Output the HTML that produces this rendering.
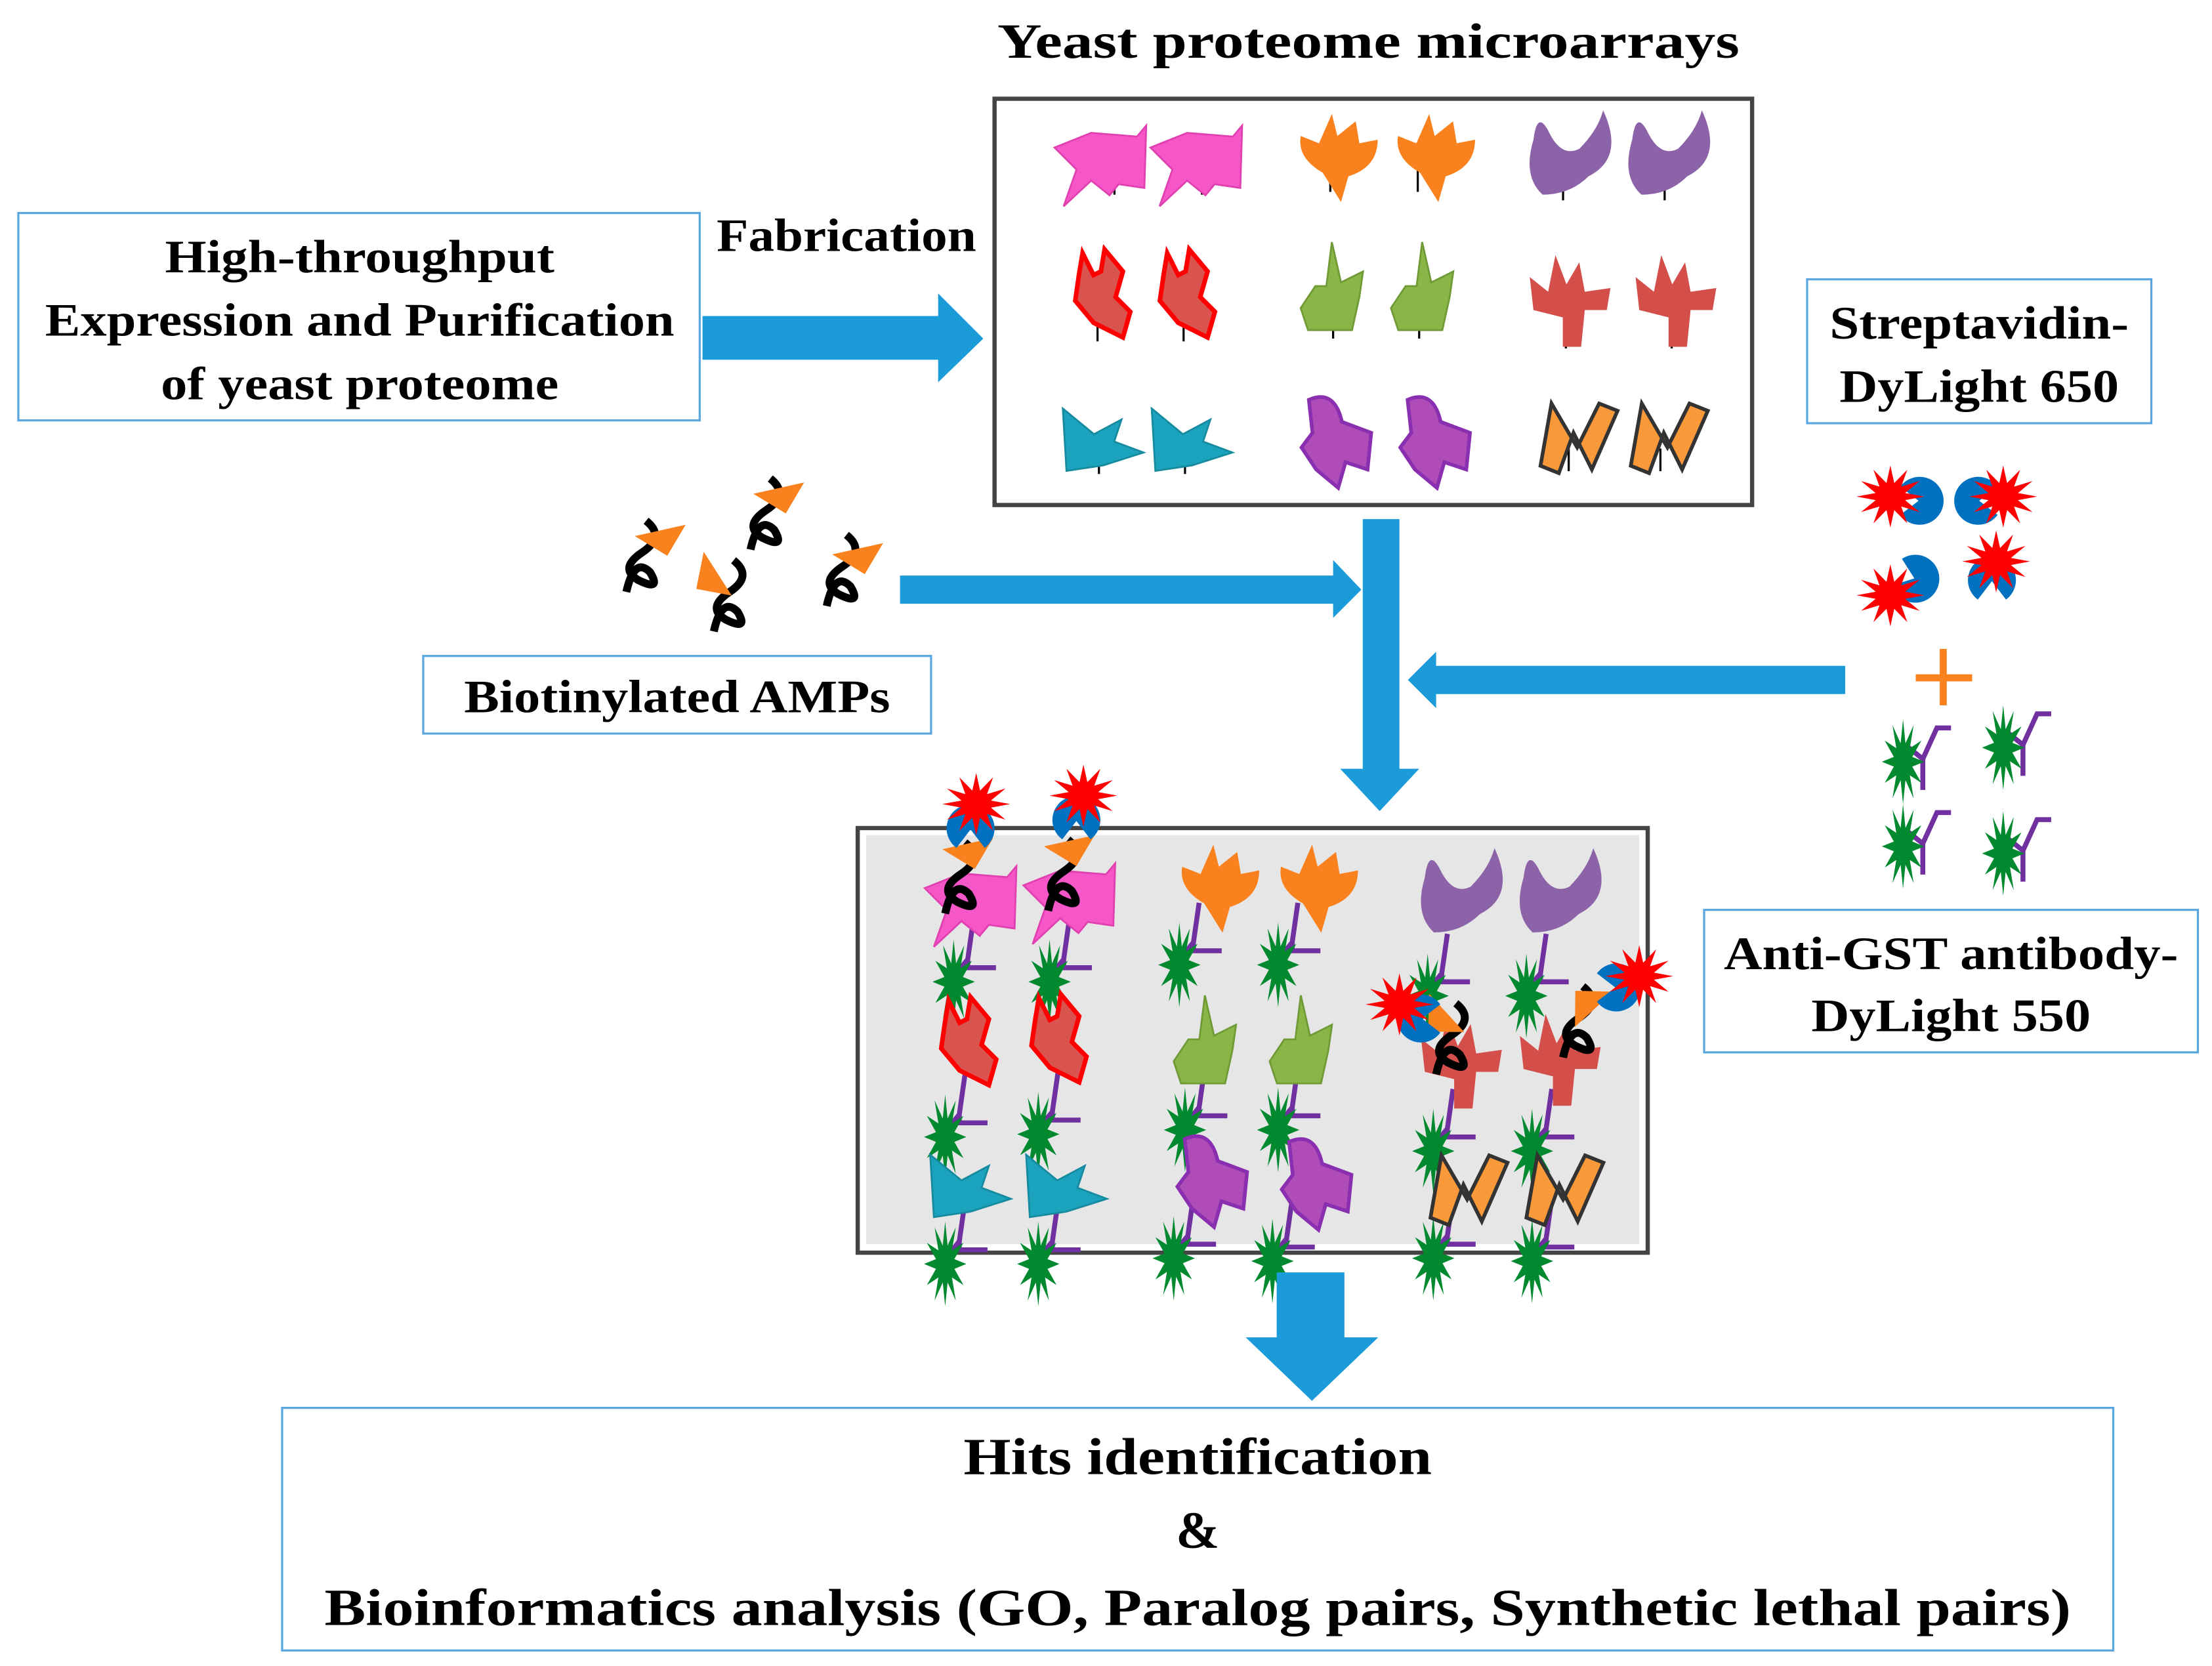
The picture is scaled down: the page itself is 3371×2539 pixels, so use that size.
<!DOCTYPE html>
<html><head><meta charset="utf-8"><style>
html,body{margin:0;padding:0;background:#fff;}
svg{display:block;}
text{font-family:"Liberation Serif",serif;font-weight:bold;fill:#000;}
</style></head><body>
<svg width="3371" height="2539" viewBox="0 0 1568 1181" xmlns="http://www.w3.org/2000/svg">
<defs>
<polygon id="star" points="20,0 8.7,2.3 17.3,10 6.4,6.4 10,17.3 2.3,8.7 0,20 -2.3,8.7 -10,17.3 -6.4,6.4 -17.3,10 -8.7,2.3 -20,0 -8.7,-2.3 -17.3,-10 -6.4,-6.4 -10,-17.3 -2.3,-8.7 0,-20 2.3,-8.7 10,-17.3 6.4,-6.4 17.3,-10 8.7,-2.3"/>
<g id="redstar"><use href="#star" fill="#ff0000" transform="scale(1.2,1.1)"/></g>
<g id="greenstar"><use href="#star" fill="#00892f" transform="scale(0.75,1.5)"/></g>
<path id="pac" d="M0,0 L13,-10 A17,17 0 1,0 13,10 Z" fill="#0070c0"/>
<g id="ab"><polyline points="-2,-28 -6,0 -14,10" fill="none" stroke="#7030a0" stroke-width="3.5"/><polyline points="-6,0 -6,6 14,6" fill="none" stroke="#7030a0" stroke-width="3.5"/><use href="#greenstar" transform="translate(-16,16)"/></g>
<g id="ab2"><polyline points="-12,-10 -2,-2 -2,20" fill="none" stroke="#7030a0" stroke-width="3.5"/><polyline points="-2,-2 8,-24 18,-24" fill="none" stroke="#7030a0" stroke-width="3.5"/><use href="#greenstar" transform="translate(-16,0)"/></g>
<g id="p1" transform="scale(1.3)"><path d="M-25,-8 L-5,-16 L20,-14 L25,-20 L24,14 L10,12 L5,18 L-5,10 L-20,24 L-13,4 Z" fill="#f556c8" stroke="#e040b0" stroke-width="1"/></g>
<g id="p2" transform="scale(1.3)"><path d="M-20,-12 L-10,-8 L-3,-24 L0,-12 L10,-20 L12,-8 L22,-10 Q22,5 6,10 L2,24 L-8,8 Q-22,0 -20,-12 Z" fill="#f9821e"/></g>
<g id="p3" transform="scale(1.3)"><path d="M-20,-10 Q-18,-26 -12,-15 Q-5,0 5,-5 Q15,-15 18,-26 Q30,0 10,10 Q0,20 -15,20 Q-26,10 -20,-10 Z" fill="#8c63a8"/></g>
<g id="p4" transform="scale(1.3)"><path d="M-12,-22 L-6,-10 L-2,-12 L0,-24 L10,-12 L6,2 L14,10 L10,24 L-6,16 L-16,4 L-14,-10 Z" fill="#d9534f" stroke="#ff0000" stroke-width="2.5"/></g>
<g id="p5" transform="scale(1.3)"><path d="M-20,8 L-12,-4 L-6,-4 L-3,-28 L2,-6 L14,-12 L12,2 L8,20 L-16,20 Z" fill="#8ab648" stroke="#6f9a36" stroke-width="1"/></g>
<g id="p6" transform="scale(1.3)"><path d="M-22,-12 L-12,-4 L-8,-24 L-2,-8 L5,-20 L8,-4 L22,-6 L20,6 L8,6 L6,26 L-4,26 L-4,10 L-20,6 Z" fill="#d44e4a"/></g>
<g id="p7" transform="scale(1.3)"><path d="M-22,-18 L-5,-4 L10,-12 L6,0 L22,6 L0,13 L-20,16 Z" fill="#1ba2bd" stroke="#168a9f" stroke-width="1"/></g>
<g id="p8" transform="scale(1.3)"><path d="M-14,-22 Q0,-28 4,-10 L20,-4 L18,16 L6,12 L2,26 L-10,16 L-18,4 L-12,-4 Z" fill="#b04cb8" stroke="#8a2fb0" stroke-width="2"/></g>
<g id="p9" transform="scale(1.3)"><path d="M-20,14 L-14,-20 L0,4 L12,-20 L22,-16 L8,16 L-2,-4 L-10,18 Z" fill="#f9993a" stroke="#333" stroke-width="2"/></g>
<g id="amp" transform="scale(1.4)"><path d="M0,-22 Q10,-14 -2,-6 Q-14,2 -4,8 Q8,14 2,4 Q-6,-4 -10,14" fill="none" stroke="#000" stroke-width="4"/></g>
<polygon id="tri" points="-18,0 18,-8 5,14" fill="#f9821e"/>
</defs>

<text x="970" y="41" font-size="35" text-anchor="middle" textLength="526" lengthAdjust="spacingAndGlyphs">Yeast proteome microarrays</text>

<rect x="13" y="151" width="483" height="147" fill="#fff" stroke="#5aa7e0" stroke-width="1.5"/>
<text x="255" y="193" font-size="33" text-anchor="middle" textLength="276" lengthAdjust="spacingAndGlyphs">High-throughput</text>
<text x="255" y="238" font-size="33" text-anchor="middle" textLength="446" lengthAdjust="spacingAndGlyphs">Expression and Purification</text>
<text x="255" y="283" font-size="33" text-anchor="middle" textLength="282" lengthAdjust="spacingAndGlyphs">of yeast proteome</text>
<text x="600" y="178" font-size="33" text-anchor="middle" textLength="184" lengthAdjust="spacingAndGlyphs">Fabrication</text>

<polygon points="498,224 665,224 665,208 697,240 665,271 665,255 498,255" fill="#1b9bd7"/>

<rect x="705" y="70" width="537" height="288" fill="#fff" stroke="#444" stroke-width="3"/>
<g stroke="#000" stroke-width="1.5">
<line x1="790" y1="120" x2="790" y2="138"/><line x1="852" y1="120" x2="852" y2="138"/>
<line x1="943" y1="118" x2="943" y2="136"/><line x1="1005" y1="118" x2="1005" y2="136"/>
<line x1="1108" y1="125" x2="1108" y2="142"/><line x1="1180" y1="125" x2="1180" y2="142"/>
<line x1="778" y1="220" x2="778" y2="242"/><line x1="839" y1="220" x2="839" y2="242"/>
<line x1="945" y1="218" x2="945" y2="240"/><line x1="1006" y1="218" x2="1006" y2="240"/>
<line x1="1110" y1="225" x2="1110" y2="247"/><line x1="1185" y1="225" x2="1185" y2="247"/>
<line x1="779" y1="318" x2="779" y2="336"/><line x1="840" y1="318" x2="840" y2="336"/>
<line x1="936" y1="318" x2="936" y2="336"/><line x1="1006" y1="318" x2="1006" y2="336"/>
<line x1="1112" y1="318" x2="1112" y2="334"/><line x1="1177" y1="318" x2="1177" y2="334"/>
</g>
<use href="#p1" x="780" y="115"/><use href="#p1" x="848" y="115"/>
<use href="#p2" x="948" y="112"/><use href="#p2" x="1017" y="112"/>
<use href="#p3" x="1113" y="112"/><use href="#p3" x="1183" y="112"/>
<use href="#p4" x="783" y="208"/><use href="#p4" x="843" y="208"/>
<use href="#p5" x="948" y="208"/><use href="#p5" x="1012" y="208"/>
<use href="#p6" x="1113" y="212"/><use href="#p6" x="1188" y="212"/>
<use href="#p7" x="782" y="313"/><use href="#p7" x="845" y="313"/>
<use href="#p8" x="946" y="312"/><use href="#p8" x="1016" y="312"/>
<use href="#p9" x="1118" y="312"/><use href="#p9" x="1182" y="312"/>

<rect x="1281" y="198" width="244" height="102" fill="#fff" stroke="#5aa7e0" stroke-width="1.5"/>
<text x="1403" y="240" font-size="33" text-anchor="middle" textLength="212" lengthAdjust="spacingAndGlyphs">Streptavidin-</text>
<text x="1403" y="285" font-size="33" text-anchor="middle" textLength="198" lengthAdjust="spacingAndGlyphs">DyLight 650</text>

<use href="#pac" transform="translate(1360,355) rotate(180)"/><use href="#redstar" x="1340" y="352"/>
<use href="#pac" transform="translate(1403,355)"/><use href="#redstar" x="1420" y="352"/>
<use href="#pac" transform="translate(1357,410) rotate(200)"/><use href="#redstar" x="1340" y="422"/>
<use href="#pac" transform="translate(1412,412) rotate(90)"/><use href="#redstar" x="1415" y="398"/>
<rect x="1358" y="478" width="40" height="5" fill="#f9821e"/><rect x="1375" y="460" width="5" height="40" fill="#f9821e"/>
<use href="#ab2" x="1365" y="540"/><use href="#ab2" x="1436" y="530"/>
<use href="#ab2" x="1365" y="600"/><use href="#ab2" x="1436" y="605"/>

<use href="#amp" x="458" y="400"/><use href="#tri" x="468" y="380"/>
<use href="#amp" x="546" y="370"/><use href="#tri" x="552" y="350"/>
<use href="#amp" x="520" y="428"/><use href="#tri" transform="translate(505,408) rotate(70)"/>
<use href="#amp" x="600" y="410"/><use href="#tri" x="608" y="393"/>

<polygon points="638,408 945,408 945,397 965,418 945,438 945,428 638,428" fill="#1b9bd7"/>
<polygon points="966,368 992,368 992,545 1006,545 978,575 950,545 966,545" fill="#1b9bd7"/>
<polygon points="1308,472 1018,472 1018,462 998,482 1018,502 1018,492 1308,492" fill="#1b9bd7"/>

<rect x="300" y="465" width="360" height="55" fill="#fff" stroke="#5aa7e0" stroke-width="1.5"/>
<text x="480" y="505" font-size="33" text-anchor="middle" textLength="302" lengthAdjust="spacingAndGlyphs">Biotinylated AMPs</text>

<rect x="1208" y="645" width="350" height="101" fill="#fff" stroke="#5aa7e0" stroke-width="1.5"/>
<text x="1383" y="687" font-size="33" text-anchor="middle" textLength="322" lengthAdjust="spacingAndGlyphs">Anti-GST antibody-</text>
<text x="1383" y="731" font-size="33" text-anchor="middle" textLength="198" lengthAdjust="spacingAndGlyphs">DyLight 550</text>

<rect x="608" y="587" width="560" height="301" fill="#fff" stroke="#444" stroke-width="3"/>
<rect x="614" y="592" width="548" height="290" fill="#e6e6e6"/>
<g>
<use href="#ab" x="692" y="680"/><use href="#ab" x="760" y="680"/>
<use href="#ab" x="852" y="668"/><use href="#ab" x="922" y="668"/>
<use href="#ab" x="1028" y="690"/><use href="#ab" x="1098" y="690"/>
<use href="#ab" x="686" y="790"/><use href="#ab" x="752" y="788"/>
<use href="#ab" x="856" y="785"/><use href="#ab" x="922" y="785"/>
<use href="#ab" x="1032" y="800"/><use href="#ab" x="1102" y="800"/>
<use href="#ab" x="686" y="880"/><use href="#ab" x="752" y="880"/>
<use href="#ab" x="848" y="876"/><use href="#ab" x="918" y="878"/>
<use href="#ab" x="1032" y="876"/><use href="#ab" x="1102" y="878"/>
</g>
<use href="#p1" x="688" y="640"/><use href="#p1" x="758" y="638"/>
<use href="#p2" x="864" y="630"/><use href="#p2" x="934" y="630"/>
<use href="#p3" x="1036" y="635"/><use href="#p3" x="1106" y="635"/>
<use href="#p4" x="688" y="738"/><use href="#p4" x="752" y="736"/>
<use href="#p5" x="858" y="742"/><use href="#p5" x="926" y="742"/>
<use href="#p6" x="1036" y="752"/><use href="#p6" x="1106" y="750"/>
<use href="#p7" x="688" y="842"/><use href="#p7" x="756" y="842"/>
<use href="#p8" x="858" y="836"/><use href="#p8" x="932" y="838"/>
<use href="#p9" x="1040" y="845"/><use href="#p9" x="1108" y="845"/>
<use href="#amp" x="684" y="628"/><use href="#amp" x="757" y="626"/>
<use href="#tri" x="686" y="602"/><use href="#tri" x="758" y="600"/>
<use href="#pac" transform="translate(688,588) rotate(90)"/><use href="#pac" transform="translate(763,582) rotate(90)"/>
<use href="#redstar" x="692" y="570"/><use href="#redstar" x="768" y="564"/>
<use href="#amp" x="1032" y="742"/><use href="#amp" x="1122" y="730"/>
<use href="#tri" transform="translate(1022,720) rotate(60)"/><use href="#tri" transform="translate(1128,712) rotate(150)"/>
<use href="#pac" transform="translate(1008,722)"/><use href="#pac" transform="translate(1145,700) rotate(180)"/>
<use href="#redstar" x="992" y="712"/><use href="#redstar" x="1162" y="692"/>

<polygon points="905,902 953,902 953,948 977,948 930,993 883,948 905,948" fill="#1b9bd7"/>

<rect x="200" y="998" width="1298" height="172" fill="#fff" stroke="#5aa7e0" stroke-width="1.5"/>
<text x="849" y="1045" font-size="37" text-anchor="middle" textLength="332" lengthAdjust="spacingAndGlyphs">Hits identification</text>
<text x="849" y="1097" font-size="37" text-anchor="middle">&amp;</text>
<text x="849" y="1152" font-size="37" text-anchor="middle" textLength="1238" lengthAdjust="spacingAndGlyphs">Bioinformatics analysis (GO, Paralog pairs, Synthetic lethal pairs)</text>
</svg>
</body></html>
